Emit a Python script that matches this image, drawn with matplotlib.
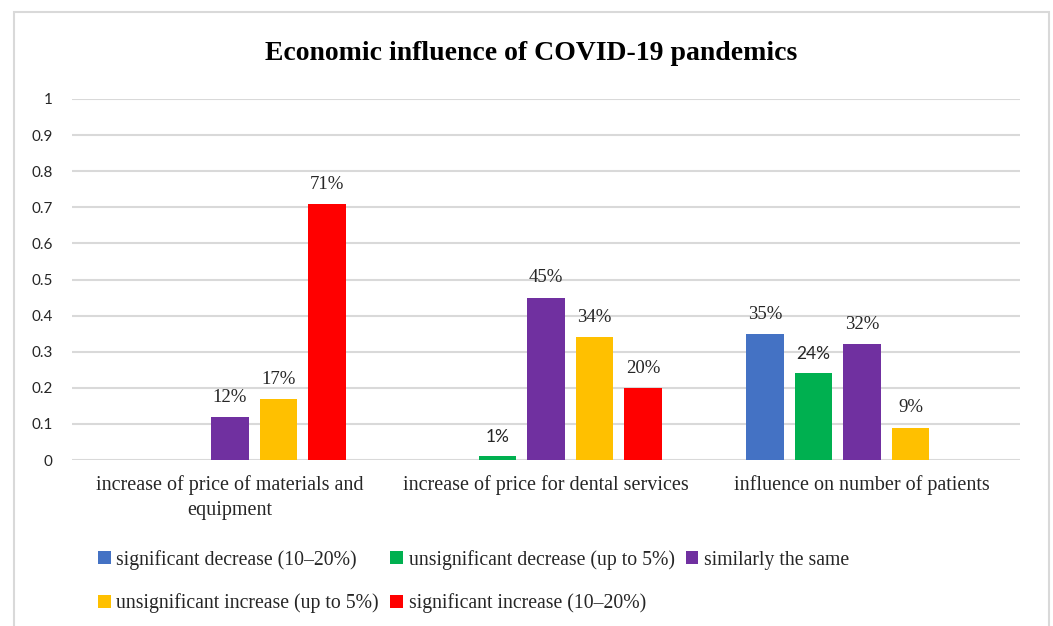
import matplotlib.pyplot as plt
import numpy as np
from matplotlib.patches import Patch, Rectangle

categories = ["increase of price of materials and\nequipment",
              "increase of price for dental services",
              "influence on number of patients"]
series = ["significant decrease (10–20%)",
          "unsignificant decrease (up to 5%)",
          "similarly the same",
          "unsignificant increase (up to 5%)",
          "significant increase (10–20%)"]
colors = ["#4472C4", "#00B050", "#7030A0", "#FFC000", "#FF0000"]

# share of answers per series, one value per category
sig_decrease = [0.00, 0.00, 0.35]
unsig_decrease = [0.00, 0.01, 0.24]
same = [0.12, 0.45, 0.32]
unsig_increase = [0.17, 0.34, 0.09]
sig_increase = [0.71, 0.20, 0.00]
values = [sig_decrease, unsig_decrease, same, unsig_increase, sig_increase]

# these two labels came out in the sans font in the original workbook
sans_labels = {(1, 1), (1, 2)}

SERIF = "Liberation Serif"
SANS = "Lato"

W, H = 1053, 626
fig = plt.figure(figsize=(W / 100, H / 100), dpi=100)
fig.patches.append(Rectangle((14 / W, -0.05), (1049 - 14) / W, 1.05 - 12 / H,
                             transform=fig.transFigure, fill=False,
                             edgecolor="#D9D9D9", linewidth=1.5))

ax = fig.add_axes([72 / W, 1 - 460 / H, (1020 - 72) / W, (460 - 99) / H])

x = np.arange(len(categories))
step = 0.1535
width = 0.12
for j, (name, vals, c) in enumerate(zip(series, values, colors)):
    pos = x + (j - 2) * step
    for i, v in enumerate(vals):
        if v <= 0:
            continue
        ax.bar(pos[i], v, width=width, color=c, zorder=3)
        fam = SANS if (j, i) in sans_labels else SERIF
        ax.annotate(f"{v * 100:.0f}%", (pos[i], v), xytext=(0, 8),
                    textcoords="offset points", ha="center", va="bottom",
                    fontsize=13.5 if fam == SERIF else 12.5,
                    family=fam, color="#262626")

ax.set_xlim(-0.5, 2.5)
ax.set_ylim(0, 1)
ax.set_yticks(np.arange(0, 1.01, 0.1))
ax.set_yticklabels(["0", "0.1", "0.2", "0.3", "0.4", "0.5", "0.6", "0.7",
                    "0.8", "0.9", "1"], family=SANS, fontsize=11, color="#262626")
ax.set_xticks(x)
ax.set_xticklabels(categories, family=SERIF, fontsize=14.5, color="#262626",
                   linespacing=1.4)
ax.tick_params(axis="both", length=0)
ax.tick_params(axis="y", pad=14)
ax.tick_params(axis="x", pad=11)
for s in ax.spines.values():
    s.set_visible(False)
ax.grid(axis="y", color="#D9D9D9", linewidth=1.5, zorder=0)
ax.set_axisbelow(True)

fig.text(531.5 / W, 1 - 53 / H, "Economic influence of COVID-19 pandemics",
         ha="center", va="center", family=SERIF, fontsize=20,
         fontweight="bold", color="black")

# legend fills column by column, so reorder to read row by row
order = [0, 3, 1, 4, 2]
handles = [Patch(facecolor=colors[k], edgecolor="none") for k in order]
labels = [series[k] for k in order]
leg = fig.legend(handles, labels, loc="upper left",
                 bbox_to_anchor=(80 / W, 1 - 532 / H), ncol=3, frameon=False,
                 handlelength=0.65, handleheight=0.65, handletextpad=0.3,
                 columnspacing=0.55, labelspacing=1.2,
                 prop={"family": SERIF, "size": 14.2})
for t in leg.get_texts():
    t.set_color("#262626")

fig.savefig("out.png", dpi=100, facecolor="white")
